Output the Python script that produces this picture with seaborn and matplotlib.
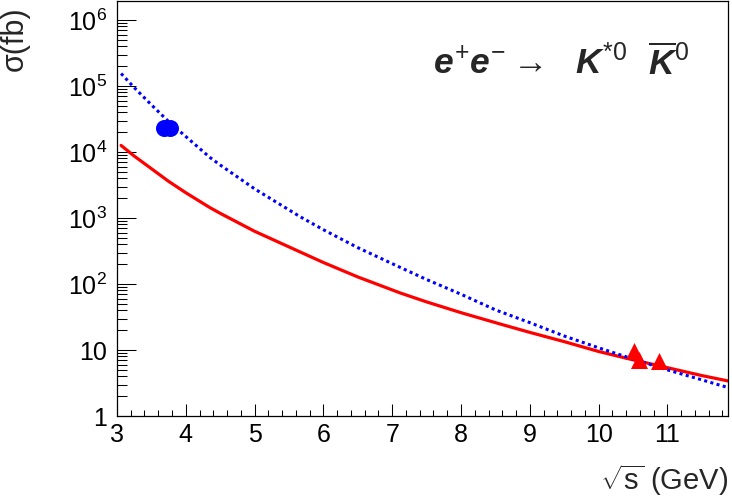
import numpy as np
import seaborn as sns
import matplotlib.pyplot as plt
from matplotlib.ticker import FixedLocator, FixedFormatter, MultipleLocator, LogLocator, NullFormatter

sns.set_style('ticks')
plt.rcParams['font.family'] = ['Liberation Sans', 'DejaVu Sans']
plt.rcParams['mathtext.fontset'] = 'custom'
plt.rcParams['mathtext.rm'] = 'Liberation Sans'
plt.rcParams['mathtext.it'] = 'Liberation Sans:italic:bold'
plt.rcParams['mathtext.bf'] = 'Liberation Sans:bold'

# red solid curve
red_x = [3.06, 3.25, 3.5, 3.75, 4.0, 4.35, 4.5, 5.0, 5.61, 6.0, 6.5, 7.12, 7.5, 8.0, 8.58, 9.0, 9.5,
         10.0, 10.5, 11.0, 11.5, 11.88]
red_y = [1.26e4, 8.7e3, 5.6e3, 3.6e3, 2.42e3, 1.44e3, 1.18e3, 630, 324, 212, 128, 73, 53.6, 36.8, 24.6,
         18.5, 13.4, 9.5, 7.1, 5.4, 4.1, 3.4]

# blue dotted curve
blue_x = [3.06, 3.25, 3.5, 3.75, 4.0, 4.35, 4.5, 5.0, 5.66, 6.0, 6.5, 7.12, 7.5, 8.0, 8.5, 9.0, 9.5,
          10.0, 10.5, 11.0, 11.5, 11.88]
blue_y = [1.55e5, 9.5e4, 5.2e4, 2.9e4, 1.72e4, 8.3e3, 6.37e3, 2.77e3, 1.05e3, 665, 356, 178, 117, 70,
          40.6, 26, 16.3, 10.8, 7.3, 5.0, 3.53, 2.7]

# data points
psi_x = [3.686, 3.773]
psi_y = [2.3e4, 2.3e4]
ups_x = [10.52, 10.58, 10.876]
ups_y = [9.6, 7.0, 6.9]

ytick_vals = [1, 10, 1e2, 1e3, 1e4, 1e5, 1e6]
ytick_labels = ['1', '10', '$10^{2}$', '$10^{3}$', '$10^{4}$', '$10^{5}$', '$10^{6}$']
xtick_vals = [3, 4, 5, 6, 7, 8, 9, 10, 11]

fig = plt.figure(figsize=(7.32, 5.04), dpi=100)
ax = fig.add_axes([0.1598, 0.1746, 0.8347, 0.8244])

sns.lineplot(x=red_x, y=red_y, ax=ax, color='#ff0000', lw=2.3, sort=False)
sns.lineplot(x=blue_x, y=blue_y, ax=ax, color='#0000ff', lw=2.2, sort=False,
             linestyle=(0, (1, 1.1)))
sns.scatterplot(x=psi_x, y=psi_y, ax=ax, marker='o', s=150, color='#0000ff', linewidth=0, zorder=5)
sns.scatterplot(x=ups_x, y=ups_y, ax=ax, marker='^', s=150, color='#ff0000', linewidth=0, zorder=5)

ax.set_yscale('log')
ax.set_xlim(3, 11.88)
ax.set_ylim(1, 1.98e6)

ax.yaxis.set_major_locator(FixedLocator(ytick_vals))
ax.yaxis.set_major_formatter(FixedFormatter(ytick_labels))
ax.yaxis.set_minor_locator(LogLocator(base=10, subs=np.arange(2, 10)))
ax.yaxis.set_minor_formatter(NullFormatter())
ax.xaxis.set_major_locator(FixedLocator(xtick_vals))
ax.xaxis.set_minor_locator(MultipleLocator(0.2))

ax.tick_params(axis='both', which='both', direction='in', colors='black', width=0.75,
               top=False, right=False, labelsize=18)
ax.tick_params(axis='x', which='major', length=9, pad=5)
ax.tick_params(axis='x', which='minor', length=4.3)
ax.tick_params(axis='y', which='major', length=13.5, pad=7)
ax.tick_params(axis='y', which='minor', length=7)
for sp in ax.spines.values():
    sp.set_visible(True)
    sp.set_color('black')
    sp.set_linewidth(0.9)

ax.set_xlabel(r'$\sqrt{\mathrm{s}}$ (GeV)', fontsize=21, loc='right')
ax.xaxis.set_label_coords(1.0, -0.112)
ax.set_ylabel('σ(fb)', fontsize=22, loc='top')
ax.yaxis.set_label_coords(-0.142, 0.985)

fig.text(433 / 732, 1 - 75 / 504, r'$e^{+}e^{-}\rightarrow\ \ K^{*0}\ \ \overline{K}^{0}$',
         fontsize=25.5, ha='left', va='baseline')

fig.savefig('out.png', dpi=100)
